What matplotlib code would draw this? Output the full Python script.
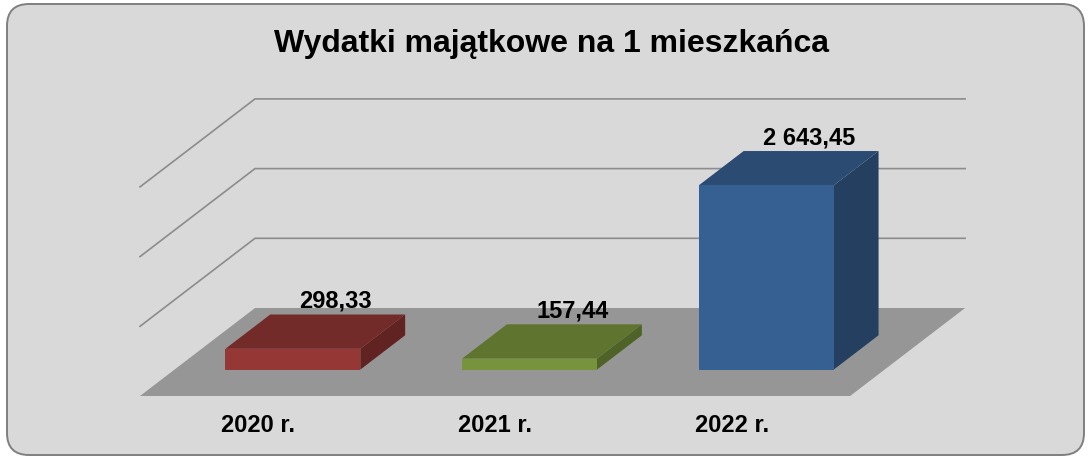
import matplotlib
matplotlib.use("Agg")
import matplotlib.pyplot as plt
from matplotlib.patches import Polygon, FancyBboxPatch

# data
categories = ["2020 r.", "2021 r.", "2022 r."]
values = [298.33, 157.44, 2643.45]
value_labels = ["298,33", "157,44", "2 643,45"]
grid_values = [1000, 2000, 3000]
title = "Wydatki majątkowe na 1 mieszkańca"

front_colors = ["#953735", "#77933c", "#376092"]
top_colors = ["#722b29", "#5f752f", "#2b4b73"]
side_colors = ["#602321", "#4f6228", "#243f5f"]

W, H = 1091, 458
plt.rcParams['font.family'] = ['Liberation Sans', 'DejaVu Sans']

# oblique projection setup (front plane: x in category units, y in value units)
px_per_cat = 236.7
px_per_val = 0.0697
x0_px, y0_px = 140, 396          # front-left corner of floor, in pixels
depth_dx = 115 / px_per_cat      # shift for full depth, category units
depth_dy = 88 / px_per_val       # shift for full depth, value units
n = len(categories)


def proj(x, v, d):
    return (x + d * depth_dx, v + d * depth_dy)


fig = plt.figure(figsize=(W / 100, H / 100), dpi=100)
ax = fig.add_axes([0, 0, 1, 1])
ax.set_xlim(-x0_px / px_per_cat, (W - x0_px) / px_per_cat)
ax.set_ylim(-(H - y0_px) / px_per_val, y0_px / px_per_val)
ax.axis("off")

# background panel (in pixel units)
bg = FancyBboxPatch((7, 3), W - 14, H - 7, boxstyle="round,pad=0,rounding_size=22",
                    transform=None, facecolor="#d9d9d9", edgecolor="#7f7f7f",
                    linewidth=1.4, zorder=0)
ax.add_patch(bg)

# grid lines: back wall and left wall
for g in grid_values:
    xs, ys = zip(proj(0, g, 0), proj(0, g, 1), proj(n, g, 1))
    ax.plot(xs, ys, color="#8c8c8c", lw=1.2, zorder=1)

# floor
floor = [proj(0, 0, 0), proj(n, 0, 0), proj(n, 0, 1), proj(0, 0, 1)]
ax.add_patch(Polygon(floor, closed=True, facecolor="#969696", edgecolor="none", zorder=2))

bar_w = 0.57
d_front, d_back = 0.30, 0.69

for i, v in enumerate(values):
    xl = i + 0.5 - bar_w / 2
    xr = i + 0.5 + bar_w / 2
    front = [proj(xl, 0, d_front), proj(xr, 0, d_front), proj(xr, v, d_front), proj(xl, v, d_front)]
    top = [proj(xl, v, d_front), proj(xr, v, d_front), proj(xr, v, d_back), proj(xl, v, d_back)]
    side = [proj(xr, 0, d_front), proj(xr, 0, d_back), proj(xr, v, d_back), proj(xr, v, d_front)]
    ax.add_patch(Polygon(side, closed=True, facecolor=side_colors[i], edgecolor="none", zorder=3))
    ax.add_patch(Polygon(top, closed=True, facecolor=top_colors[i], edgecolor="none", zorder=3))
    ax.add_patch(Polygon(front, closed=True, facecolor=front_colors[i], edgecolor="none", zorder=4))

    # value label above the back edge of the top face
    lx, ly = proj(i + 0.5, v, d_back)
    ax.text(lx - 2 / px_per_cat, ly + 13 / px_per_val, value_labels[i], ha="center", va="center",
            fontsize=17, fontweight="bold", color="black", zorder=6)

    cx, cy = proj(i + 0.5, -(425 - y0_px) / px_per_val, 0)
    ax.text(cx, cy, categories[i], ha="center", va="center",
            fontsize=17, fontweight="bold", color="black", zorder=6)

fig.text(552 / W, 1 - 44 / H, title, ha="center", va="center",
         fontsize=23, fontweight="bold", color="black")

fig.savefig("out.png", dpi=100, facecolor="white")
